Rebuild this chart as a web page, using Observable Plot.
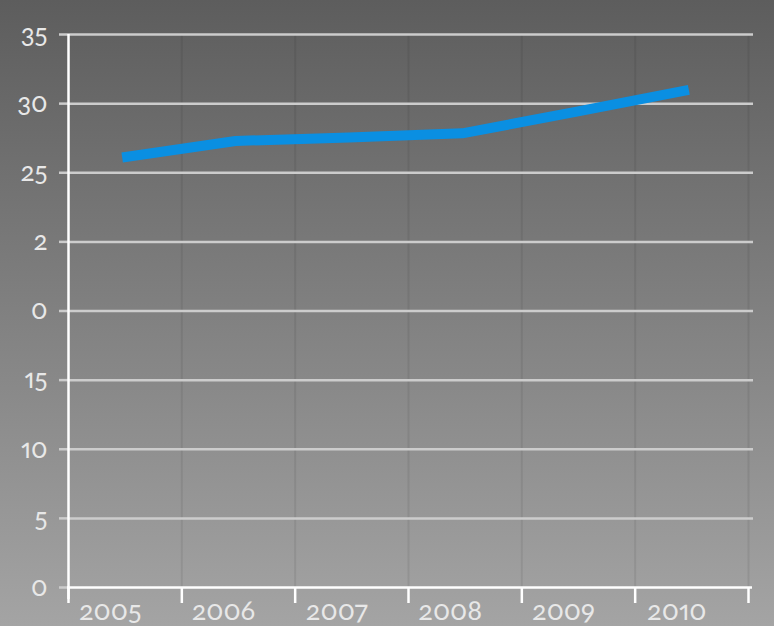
<!DOCTYPE html>
<html><head><meta charset="utf-8">
<script src="https://cdn.jsdelivr.net/npm/d3@7"></script>
<script src="https://cdn.jsdelivr.net/npm/@observablehq/plot@0.6"></script>
<style>
html,body{margin:0;padding:0;}
body{width:774px;height:626px;background:linear-gradient(to bottom,#5d5d5d,#a4a4a4);overflow:hidden;}
#chart svg{display:block;font-family:Lato,"Open Sans",sans-serif;}
#chart svg g, #chart svg text{font-variant-numeric:oldstyle-nums proportional-nums !important;font-feature-settings:"onum" 1,"pnum" 1 !important;}
</style></head><body><div id="chart"></div>
<script>
const years = [2005, 2006, 2007, 2008, 2009, 2010];
const values = [26.1, 27.3, 27.55, 27.85, 29.4, 31.0];
const yTicks = [-5, 0, 5, 10, 15, 20, 25, 30, 35];
const yTickLabels = ["0", "5", "10", "15", "0", "2", "25", "30", "35"];

const table = years.map((year, i) => ({year, value: values[i]}));
const xBounds = [years[0] - 0.5, ...years.map(y => y + 0.5)];

const chart = Plot.plot({
  width: 774,
  height: 626,
  marginTop: 34,
  marginBottom: 39,
  marginLeft: 68,
  marginRight: 26,
  style: {background: "transparent", color: "#e8e8e8"},
  x: {domain: [xBounds[0], xBounds[xBounds.length - 1]]},
  y: {domain: [yTicks[0], yTicks[yTicks.length - 1]]},
  marks: [
    Plot.ruleX(xBounds.slice(1), {stroke: "#000", strokeOpacity: 0.07, strokeWidth: 2}),
    Plot.ruleY(yTicks.slice(1), {stroke: "#cccccc", strokeWidth: 2.5, insetRight: -5}),
    Plot.axisY({ticks: yTicks, tickSize: 9, tickPadding: 12, stroke: "#cccccc", strokeWidth: 2.5,
      fill: "#e8e8e8", fontSize: 26, tickFormat: d => yTickLabels[yTicks.indexOf(d)], label: null}),
    Plot.axisX({ticks: xBounds, tickSize: 16, stroke: "#ffffff", strokeWidth: 2.5,
      tickFormat: () => "", label: null}),
    Plot.axisX({ticks: years, tickSize: 0, tickPadding: 13, fill: "#e8e8e8", fontSize: 27,
      dx: -15, tickFormat: d => String(d), label: null}),
    Plot.ruleY([yTicks[0]], {stroke: "#ffffff", strokeWidth: 2.5, insetLeft: -1, insetRight: -4}),
    Plot.ruleX([xBounds[0]], {stroke: "#ffffff", strokeWidth: 2.5, insetBottom: -12}),
    Plot.line(table, {x: "year", y: "value", dx: -3, stroke: "#0a8fe2", strokeWidth: 10, strokeLinecap: "butt", strokeLinejoin: "round"})
  ]
});
document.getElementById("chart").appendChild(chart);
</script>
</body></html>
